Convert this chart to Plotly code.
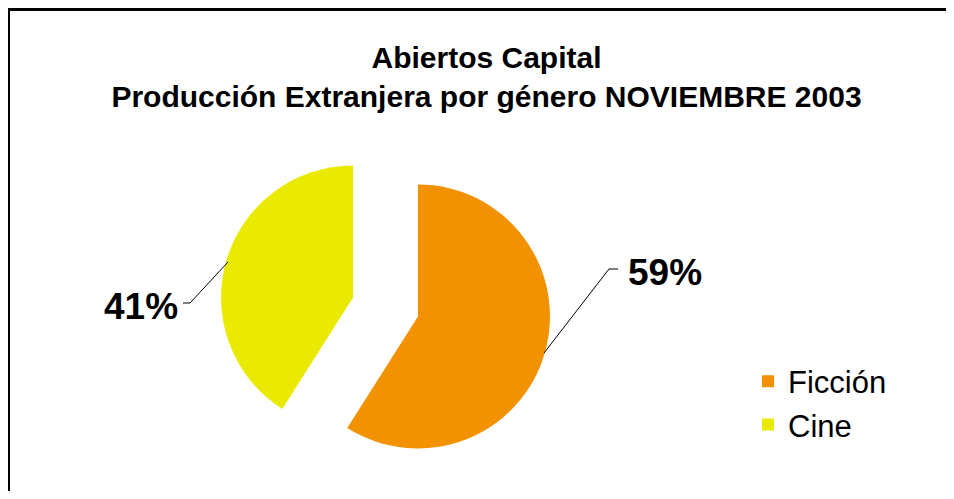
import plotly.graph_objects as go

# datos del gráfico
generos = ['Ficción', 'Cine']
valores = [59, 41]
colores = ['#F29200', '#EAEA00']
titulo = 'Abiertos Capital<br>Producción Extranjera por género NOVIEMBRE 2003'

total = sum(valores)
porcentajes = [f'{round(v / total * 100)}%' for v in valores]

# la página deja 8px de margen alrededor, la figura se ajusta para que quepa
OFF = 8
W, H = 954 - 2 * OFF, 499 - 2 * OFF


def px_x(x):
    return (x - OFF) / W


def px_y(y):
    return 1 - (y - OFF) / H


fig = go.Figure()
fig.add_trace(go.Pie(
    labels=generos,
    values=valores,
    sort=False,
    direction='clockwise',
    rotation=0,
    pull=[0.256, 0.256],
    marker=dict(colors=colores, line=dict(width=0)),
    textinfo='none',
    hovertemplate='%{label}: %{percent}<extra></extra>',
    domain=dict(x=[px_x(195.5), px_x(575.5)], y=[px_y(472.8), px_y(141.2)]),
))

# etiquetas de porcentaje con líneas guía
etiquetas = [
    # (texto, punto en borde, codo, fin, posicion texto, anchor)
    (porcentajes[0], (544, 353), (609, 269), (618, 269), (626, 272), 'left'),
    (porcentajes[1], (228, 262), (190, 303), (183, 303), (180, 306), 'right'),
]
for txt, p0, p1, p2, pt, anc in etiquetas:
    fig.add_shape(
        type='path',
        xref='paper', yref='paper',
        path=(f'M {px_x(p0[0])},{px_y(p0[1])} L {px_x(p1[0])},{px_y(p1[1])} '
              f'L {px_x(p2[0])},{px_y(p2[1])}'),
        line=dict(color='black', width=1),
    )
    fig.add_annotation(
        x=px_x(pt[0]), y=px_y(pt[1]), xref='paper', yref='paper',
        text=f'<b>{txt}</b>', showarrow=False,
        xanchor=anc, yanchor='middle',
        font=dict(size=37, color='black', family='Liberation Sans, Arial'),
    )

# marco negro: solo se ven el borde superior y el izquierdo
fig.add_shape(type='line', xref='paper', yref='paper',
              x0=px_x(8), x1=1.0, y0=px_y(9), y1=px_y(9),
              line=dict(color='black', width=4))
fig.add_shape(type='line', xref='paper', yref='paper',
              x0=px_x(8), x1=px_x(8), y0=px_y(7), y1=0.0,
              line=dict(color='black', width=4))

fig.update_layout(
    width=W,
    height=H,
    margin=dict(l=0, r=0, t=0, b=0),
    paper_bgcolor='white',
    plot_bgcolor='white',
    font=dict(family='Liberation Sans, Arial', color='black'),
    title=dict(
        text=f'<b>{titulo}</b>',
        x=px_x(486.5), xanchor='center',
        y=px_y(68), yanchor='middle', yref='container',
        font=dict(size=30, color='black', family='Liberation Sans, Arial'),
    ),
    showlegend=True,
    legend=dict(
        x=px_x(748), y=px_y(403), xanchor='left', yanchor='middle',
        font=dict(size=31, color='black'),
        bgcolor='rgba(0,0,0,0)',
    ),
)

fig.write_html('out.html')
